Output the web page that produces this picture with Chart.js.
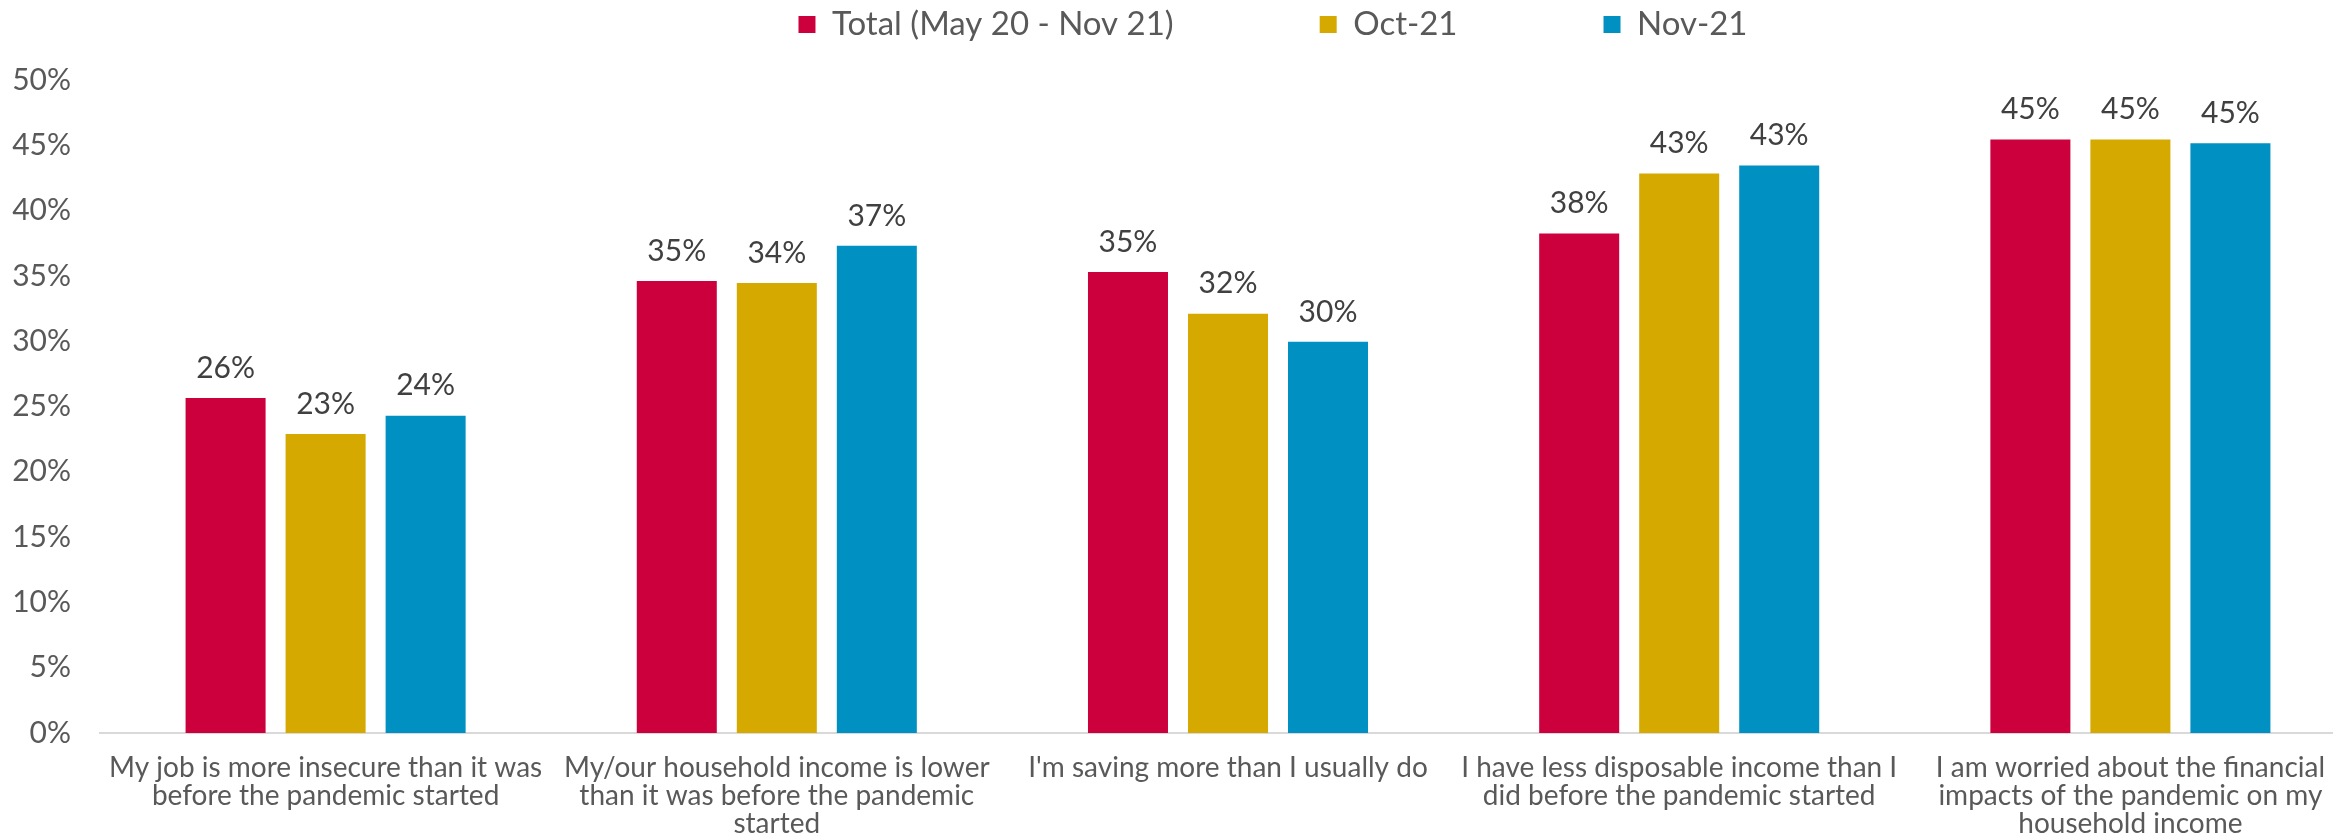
<!DOCTYPE html>
<html>
<head>
<meta charset="utf-8">
<title>Pandemic household finances</title>
<script src="https://cdn.jsdelivr.net/npm/chart.js@4/dist/chart.umd.min.js"></script>
<style>
  html, body { margin: 0; padding: 0; background: #fff; overflow: hidden; }
  #wrap { width: 2356px; height: 837px; position: relative; }
</style>
</head>
<body>
<div id="wrap"><canvas id="financeChart"></canvas></div>
<script>
// ---------------- data ----------------
var categories = [
    ["My job is more insecure than it was", "before the pandemic started"],
    ["My/our household income is lower", "than it was before the pandemic", "started"],
    ["I'm saving more than I usually do"],
    ["I have less disposable income than I", "did before the pandemic started"],
    ["I am worried about the financial", "impacts of the pandemic on my", "household income"]
];
var seriesNames = ["Total (May 20 - Nov 21)", "Oct-21", "Nov-21"];
var totalValues = [25.65, 34.6, 35.3, 38.25, 45.45];
var oct21Values = [22.9, 34.45, 32.1, 42.85, 45.45];
var nov21Values = [24.3, 37.3, 29.95, 43.45, 45.15];
var seriesColors = ["#CC003D", "#D5A900", "#0090C1"];

var textGrey = '#595959';
var fontName = "Lato, 'Open Sans', sans-serif";

// draws "26%" etc above each bar
var barLabels = {
    id: 'barLabels',
    afterDatasetsDraw: function (chart) {
        var ctx = chart.ctx;
        ctx.save();
        ctx.font = '30px ' + fontName;
        ctx.fillStyle = '#404040';
        ctx.textAlign = 'center';
        ctx.textBaseline = 'middle';
        chart.data.datasets.forEach(function (ds, i) {
            chart.getDatasetMeta(i).data.forEach(function (bar, j) {
                ctx.fillText(Math.round(ds.data[j]) + '%', bar.x, bar.y - 30);
            });
        });
        ctx.restore();
    }
};

// legend: fixed height, moved to where it sits in the original
var legendPlace = {
    id: 'legendPlace',
    beforeInit: function (chart) {
        var fit = chart.legend.fit;
        chart.legend.fit = function () {
            fit.bind(chart.legend)();
            this.height = 80;
        };
    },
    afterLayout: function (chart) {
        var lg = chart.legend;
        var pad = lg.options.labels.padding;
        var dx = 95;
        lg.left += dx; lg.right += dx;
        lg.top = 8 - pad;   // legend draws its row at top + padding
        lg.bottom = 80;     // keep the clip box over the visible strip
    }
};

var data = {
    labels: categories,
    datasets: [
        { label: seriesNames[0], data: totalValues, backgroundColor: seriesColors[0] },
        { label: seriesNames[1], data: oct21Values, backgroundColor: seriesColors[1] },
        { label: seriesNames[2], data: nov21Values, backgroundColor: seriesColors[2] }
    ]
};

var options = {
    responsive: true,
    maintainAspectRatio: false,
    animation: false,
    layout: { padding: 0 },
    datasets: { bar: { categoryPercentage: 0.665, barPercentage: 0.8 } },
    plugins: {
        tooltip: { enabled: false },
        legend: {
            position: 'top',
            align: 'center',
            labels: {
                boxWidth: 17,
                boxHeight: 17,
                padding: 146,
                color: textGrey,
                font: { family: fontName, size: 33 }
            }
        }
    },
    scales: {
        x: {
            grid: { display: false, drawTicks: false },
            border: { display: true, color: '#d9d9d9', width: 2 },
            ticks: {
                color: textGrey,
                padding: 21,
                maxRotation: 0,
                autoSkip: false,
                font: { family: fontName, size: 28, lineHeight: 1.0 }
            },
            afterFit: function (axis) { axis.height = 104; }
        },
        y: {
            min: 0,
            max: 50,
            grid: { display: false, drawTicks: false },
            border: { display: false },
            ticks: {
                stepSize: 5,
                padding: 29,
                color: textGrey,
                font: { family: fontName, size: 30 },
                callback: function (v) { return v + '%'; }
            },
            afterFit: function (axis) { axis.width = 100; }
        }
    }
};

var ctx = document.getElementById('financeChart').getContext('2d');
var financeChart = new Chart(ctx, { type: 'bar', data: data, options: options, plugins: [barLabels, legendPlace] });
</script>
</body>
</html>
